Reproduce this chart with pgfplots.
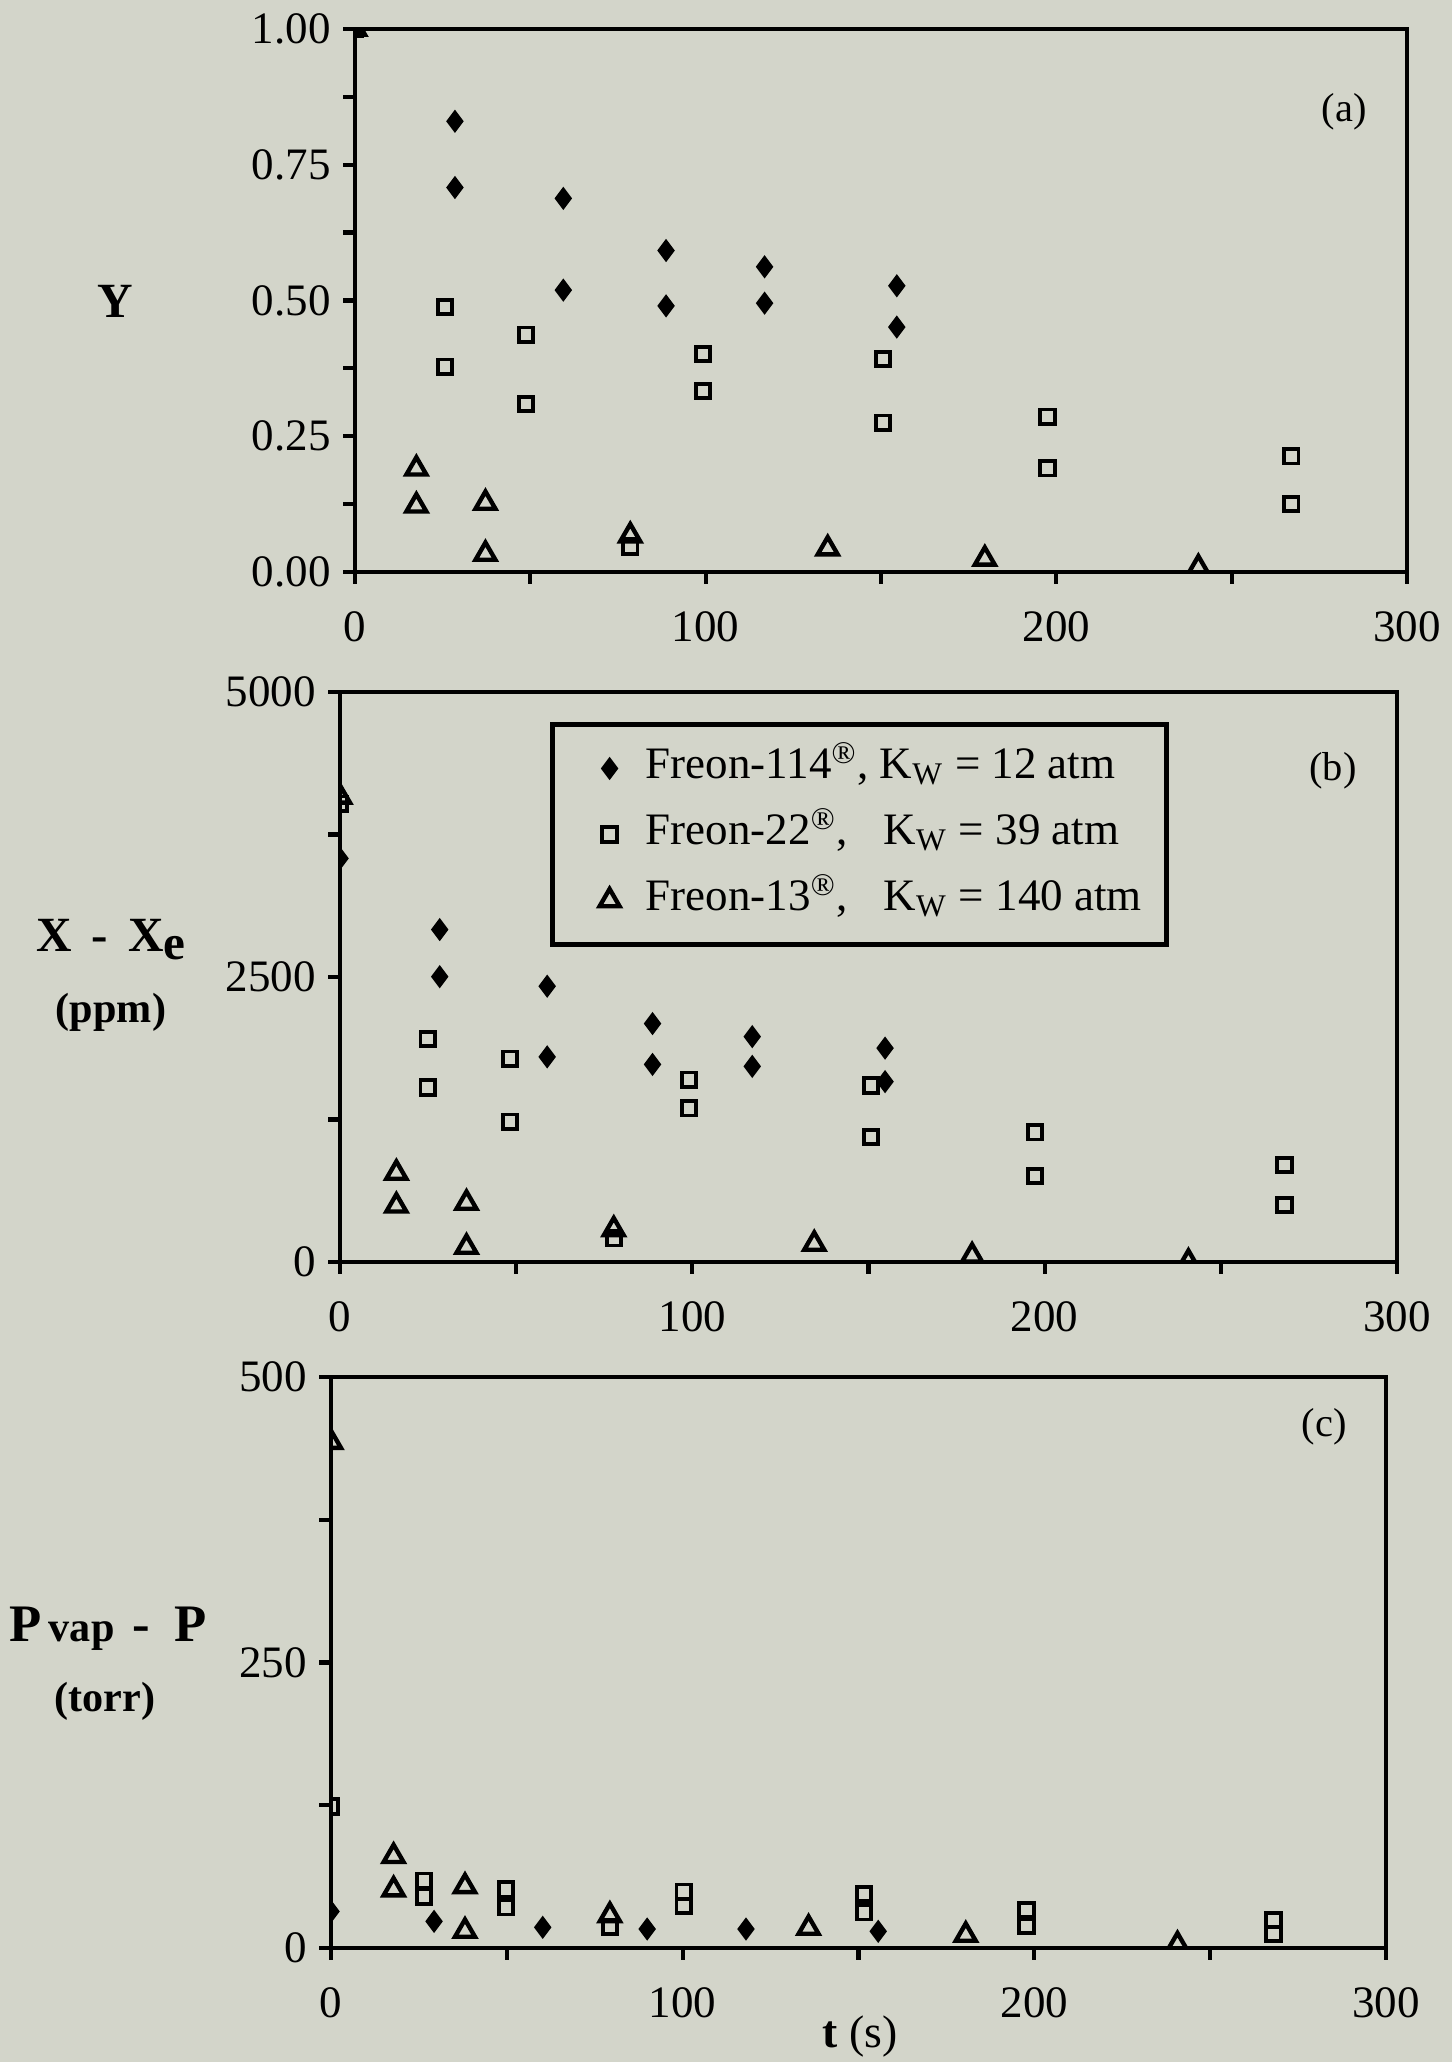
\documentclass[border=0pt]{standalone}
\usepackage{pgfplots}
\pgfplotsset{compat=1.18}
\usepackage{fontspec}
\setmainfont{Liberation Serif}

\definecolor{paper}{RGB}{211,213,202}

\newcommand{\reg}{\textsuperscript{\textregistered}}

\pgfplotsset{
  common/.style={
    scale only axis,
    anchor=south west,
    xmin=0, xmax=300,
  },
  panel/.style={
    common,
    xtick={0,100,200,300},
    xticklabels={0,100,200,300},
    minor xtick={50,150,250},
    tick pos=left,
    tick align=outside,
    axis line style={line width=1.2pt},
    every tick/.style={black, line width=1.2pt},
    major tick length=1.2mm,
    minor tick length=1.2mm,
    tick label style={font=\fontsize{12.8}{14}\selectfont},
    xticklabel shift=1.5mm,
    /pgf/number format/assume math mode=true,
  },
  data/.style={common, hide axis},
  boxA/.style={at={(3.55cm,14.90cm)}, width=10.52cm, height=5.43cm, ymin=0, ymax=1},
  boxB/.style={at={(3.40cm,8.00cm)}, width=10.57cm, height=5.70cm, ymin=0, ymax=5000},
  boxC/.style={at={(3.31cm,1.14cm)}, width=10.55cm, height=5.71cm, ymin=0, ymax=500},
  f114/.style={only marks, mark=diamond*, mark size=1.05mm,
    mark options={fill=black, draw=black, line width=0.4pt}},
  f22/.style={only marks, mark=square, mark size=0.72mm,
    mark options={draw=black, fill=none, line width=1.1pt}},
  f13/.style={only marks, mark=triangle, mark size=1.15mm,
    mark options={draw=black, fill=none, line width=1.25pt}},
}

\begin{document}
\begin{tikzpicture}
\path[use as bounding box, fill=paper] (0,0) rectangle (14.52,20.62);

% ---------- (a) dimensionless supersaturation ----------
\begin{scope}
\clip (3.55,14.90) rectangle ++(10.52,5.43);
\begin{axis}[data, boxA]
\addplot[f114] coordinates {(0,1) (28.5,0.830) (28.5,0.708) (59.4,0.688) (59.4,0.519)
  (88.7,0.592) (88.7,0.490) (116.8,0.562) (116.8,0.495) (154.5,0.527) (154.5,0.451)};
\addplot[f22] coordinates {(0,1) (25.7,0.488) (25.7,0.378) (48.7,0.437) (48.7,0.309)
  (78.5,0.047) (99.2,0.401) (99.2,0.333) (150.5,0.392) (150.5,0.275)
  (197.5,0.286) (197.5,0.191) (267,0.213) (267,0.125)};
\addplot[f13] coordinates {(0,1) (17.5,0.190) (17.5,0.122) (37.2,0.127) (37.2,0.033)
  (78.5,0.067) (134.8,0.043) (179.6,0.024) (240.5,0.008)};
\end{axis}
\end{scope}
\begin{axis}[panel, boxA,
  ytick={0,0.25,0.5,0.75,1},
  yticklabels={0.00,0.25,0.50,0.75,1.00},
  minor ytick={0.125,0.375,0.625,0.875},
]
\end{axis}

% ---------- (b) excess dissolved gas ----------
\begin{scope}
\clip (3.40,8.00) rectangle ++(10.57,5.70);
\begin{axis}[data, boxB,
  legend cell align=left,
  legend image code/.code={%
    \path (0cm,-1mm) (0.6cm,1mm);
    \draw[#1] plot coordinates {(0.3cm,0cm)};},
  legend style={at={(rel axis cs:0.1987,0.947)}, anchor=north west,
    draw=black, line width=1.3pt, fill=none,
    font=\fontsize{12.8}{15}\selectfont,
    inner xsep=2.5mm, inner ysep=2.2mm,
    column sep=0.4mm, row sep=2.2mm,
    nodes={inner xsep=0pt, inner ysep=0pt, text height=3.2mm, text depth=1.2mm}},
]
\addplot[f114] coordinates {(0,3540) (28.3,2916) (28.3,2503) (58.8,2419) (58.8,1799)
  (88.7,2091) (88.7,1733) (117,1977) (117,1716) (154.7,1876) (154.7,1582)};
\addlegendentry{Freon-114\reg, K\textsubscript{W} = 12 atm}
\addplot[f22] coordinates {(0,4020) (24.9,1957) (24.9,1531) (48.2,1783) (48.2,1230)
  (77.7,208) (99.1,1599) (99.1,1348) (150.7,1548) (150.7,1096)
  (197.3,1137) (197.3,754) (268.1,851) (268.1,500)};
\addlegendentry{Freon-22\reg,\hspace{0.55em} K\textsubscript{W} = 39 atm}
\addplot[f13] coordinates {(0,4080) (16,781) (16,493) (35.9,517) (35.9,131)
  (77.7,285) (134.6,158) (179.4,54) (240.8,0)};
\addlegendentry{Freon-13\reg,\hspace{0.55em} K\textsubscript{W} = 140 atm}
\end{axis}
\end{scope}
\begin{axis}[panel, boxB,
  ytick={0,2500,5000},
  yticklabels={0,2500,5000},
  minor ytick={1250,3750},
]
\end{axis}

% ---------- (c) pressure deficit ----------
\begin{scope}
\clip (3.31,1.14) rectangle ++(10.55,5.71);
\begin{axis}[data, boxC]
\addplot[f114] coordinates {(0,32) (29.3,23.3) (60.2,18.1) (89.9,16.6) (118,16.6) (155.6,14.6)};
\addplot[f22] coordinates {(0,124) (26.4,58.9) (26.4,44.9) (49.8,51.3) (49.8,35.6)
  (79.3,18.7) (100.3,49.3) (100.3,36.7) (151.5,47.2) (151.5,31.2)
  (197.8,33.2) (197.8,19.2) (268,24.5) (268,12.2)};
\addplot[f13] coordinates {(0,443) (17.8,80.3) (17.8,51.1) (38.1,54) (38.1,14.9)
  (79.3,28.6) (135.8,17.5) (180.5,11.4) (240.7,3)};
\end{axis}
\end{scope}
\begin{axis}[panel, boxC,
  ytick={0,250,500},
  yticklabels={0,250,500},
  minor ytick={125,375},
]
\end{axis}

% axis titles and panel tags
\node[anchor=base, font=\bfseries\fontsize{14}{16}\selectfont] at (1.15,17.44) {Y};
\node[anchor=base, font=\bfseries\fontsize{14}{16}\selectfont] at (1.12,11.10)
  {X\hspace{0.4em}-\hspace{0.4em}X\textsubscript{\fontsize{14}{16}\selectfont e}};
\node[anchor=base, font=\bfseries\fontsize{12}{14}\selectfont] at (1.11,10.39) {(ppm)};
\node[anchor=base, font=\bfseries\fontsize{15}{17}\selectfont] at (1.08,4.20)
  {P{\fontsize{12}{14}\selectfont\,vap}\hspace{0.35em}-\hspace{0.45em}P};
\node[anchor=base, font=\bfseries\fontsize{12}{14}\selectfont] at (1.05,3.50) {(torr)};
\node[anchor=base, font=\fontsize{13}{15}\selectfont] at (8.60,0.14) {\textbf{t} (s)};
\node[font=\fontsize{11.5}{13}\selectfont] at (13.44,19.50) {(a)};
\node[font=\fontsize{11.5}{13}\selectfont] at (13.33,12.91) {(b)};
\node[font=\fontsize{11.5}{13}\selectfont] at (13.24,6.35) {(c)};
\end{tikzpicture}
\end{document}
